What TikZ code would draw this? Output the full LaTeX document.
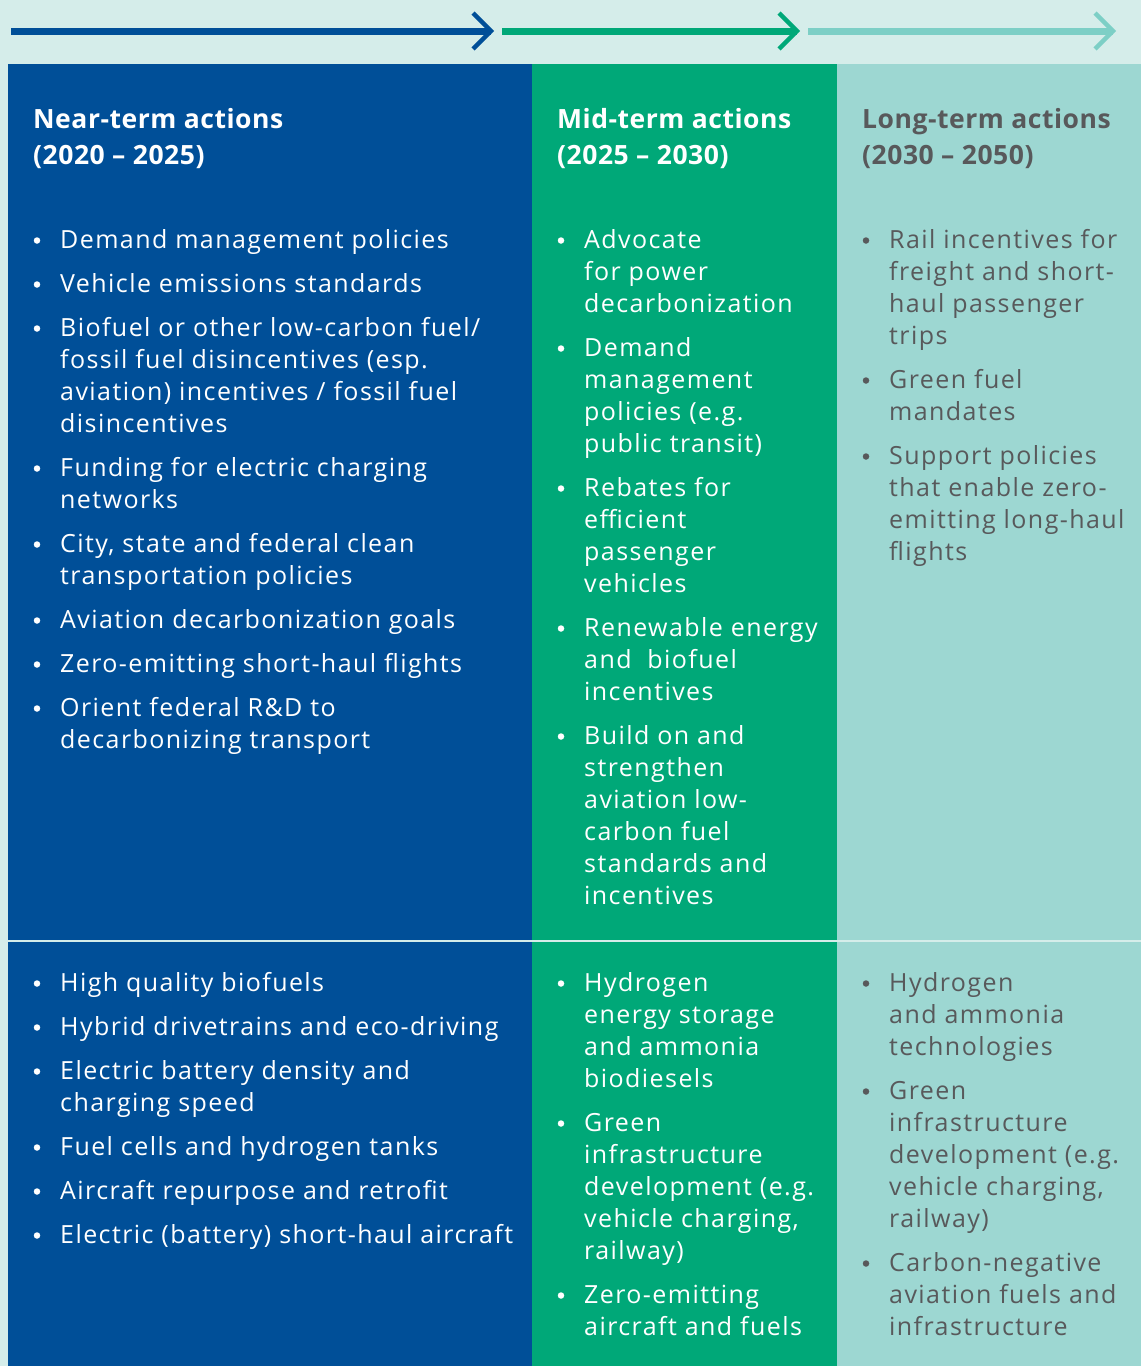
\documentclass[tikz,border=0pt]{standalone}
\usepackage{fontspec}
\setmainfont{Open Sans}
\newfontfamily\bodyfont[LetterSpace=5.7]{Open Sans}
\newfontfamily\headfont[LetterSpace=2]{Open Sans}
\usetikzlibrary{calc}
\definecolor{bgteal}{HTML}{D5EDEA}
\definecolor{nearblue}{HTML}{004F98}
\definecolor{midgreen}{HTML}{00A878}
\definecolor{longteal}{HTML}{9DD7D2}
\definecolor{arrowteal}{HTML}{7DCFC6}
\definecolor{txtgray}{HTML}{58595B}
\newcommand\myitem[5]{%
  \node[bul,fill=#4] (#1b) at (#2,#3-6.5) {};
  \node[itm,text=#4,anchor=north west] (#1) at (#2+23,#3-21) {\strut #5};}
\begin{document}
\begin{tikzpicture}[x=1pt,y=-1pt,
  bul/.style={circle,inner sep=0pt,minimum size=6.5pt,draw=none},
  itm/.style={inner sep=0pt,align=left,font=\bodyfont\fontsize{25}{32}\selectfont},
  head/.style={inner sep=0pt,align=left,anchor=north west,font=\headfont\fontsize{26.5}{36}\selectfont\bfseries},
  trend/.style={line width=7pt},
  chev/.style={line width=4.5pt,line join=miter}]
\useasboundingbox (0,0) rectangle (1141,1366);
\fill[bgteal] (0,0) rectangle (1141,1366);
% columns
\fill[nearblue] (8,64) rectangle (532,1366);
\fill[midgreen] (532,64) rectangle (837,1366);
\fill[longteal] (837,64) rectangle (1141,1366);
\fill[bgteal] (8,939.5) rectangle (1141,941.5);
% top arrows
\coordinate (a1s) at (11,31); \coordinate (a1e) at (491,31);
\coordinate (a2s) at (502,31); \coordinate (a2e) at (797,31);
\coordinate (a3s) at (808,31); \coordinate (a3e) at (1113,31);
\draw[trend,nearblue] (a1s) -- (a1e);
\draw[chev,nearblue] ($(a1e)+(-18,-18)$) -- (a1e) -- ($(a1e)+(-18,18)$);
\draw[trend,midgreen] (a2s) -- (a2e);
\draw[chev,midgreen] ($(a2e)+(-18,-18)$) -- (a2e) -- ($(a2e)+(-18,18)$);
\draw[trend,arrowteal] (a3s) -- (a3e);
\draw[chev,arrowteal] ($(a3e)+(-18,-18)$) -- (a3e) -- ($(a3e)+(-18,18)$);
% headings
\node[head,text=white] (h1) at (33,108) {Near-term actions\\(2020 – 2025)};
\node[head,text=white] (h2) at (557,108) {Mid-term actions\\(2025 – 2030)};
\node[head,text=txtgray] (h3) at (862,108) {Long-term actions\\(2030 – 2050)};
% near-term policy
\myitem{n1}{37}{247}{white}{Demand management policies}
\myitem{n2}{37}{291}{white}{Vehicle emissions standards}
\myitem{n3}{37}{335}{white}{Biofuel or other low-carbon fuel/\\fossil fuel disincentives (esp.\\aviation) incentives / fossil fuel\\disincentives}
\myitem{n4}{37}{475}{white}{Funding for electric charging\\networks}
\myitem{n5}{37}{551}{white}{City, state and federal clean\\transportation policies}
\myitem{n6}{37}{627}{white}{Aviation decarbonization goals}
\myitem{n7}{37}{671}{white}{Zero-emitting short-haul flights}
\myitem{n8}{37}{715}{white}{Orient federal R\&D to\\decarbonizing transport}
% near-term tech
\myitem{t1}{37}{990}{white}{High quality biofuels}
\myitem{t2}{37}{1034}{white}{Hybrid drivetrains and eco-driving}
\myitem{t3}{37}{1078}{white}{Electric battery density and\\charging speed}
\myitem{t4}{37}{1154}{white}{Fuel cells and hydrogen tanks}
\myitem{t5}{37}{1198}{white}{Aircraft repurpose and retrofit}
\myitem{t6}{37}{1242}{white}{Electric (battery) short-haul aircraft}
% mid-term policy
\myitem{m1}{561}{247}{white}{Advocate\\for power\\decarbonization}
\myitem{m2}{561}{355}{white}{Demand\\management\\policies (e.g.\\public transit)}
\myitem{m3}{561}{495}{white}{Rebates for\\efficient\\passenger\\vehicles}
\myitem{m4}{561}{635}{white}{Renewable energy\\and\ \ biofuel\\incentives}
\myitem{m5}{561}{743}{white}{Build on and\\strengthen\\aviation low-\\carbon fuel\\standards and\\incentives}
% mid-term tech
\myitem{u1}{561}{990}{white}{Hydrogen\\energy storage\\and ammonia\\biodiesels}
\myitem{u2}{561}{1130}{white}{Green\\infrastructure\\development (e.g.\\vehicle charging,\\railway)}
\myitem{u3}{561}{1302}{white}{Zero-emitting\\aircraft and fuels}
% long-term policy
\myitem{l1}{866}{247}{txtgray}{Rail incentives for\\freight and short-\\haul passenger\\trips}
\myitem{l2}{866}{387}{txtgray}{Green fuel\\mandates}
\myitem{l3}{866}{463}{txtgray}{Support policies\\that enable zero-\\emitting long-haul\\flights}
% long-term tech
\myitem{v1}{866}{990}{txtgray}{Hydrogen\\and ammonia\\technologies}
\myitem{v2}{866}{1098}{txtgray}{Green\\infrastructure\\development (e.g.\\vehicle charging,\\railway)}
\myitem{v3}{866}{1270}{txtgray}{Carbon-negative\\aviation fuels and\\infrastructure}
\end{tikzpicture}
\end{document}
